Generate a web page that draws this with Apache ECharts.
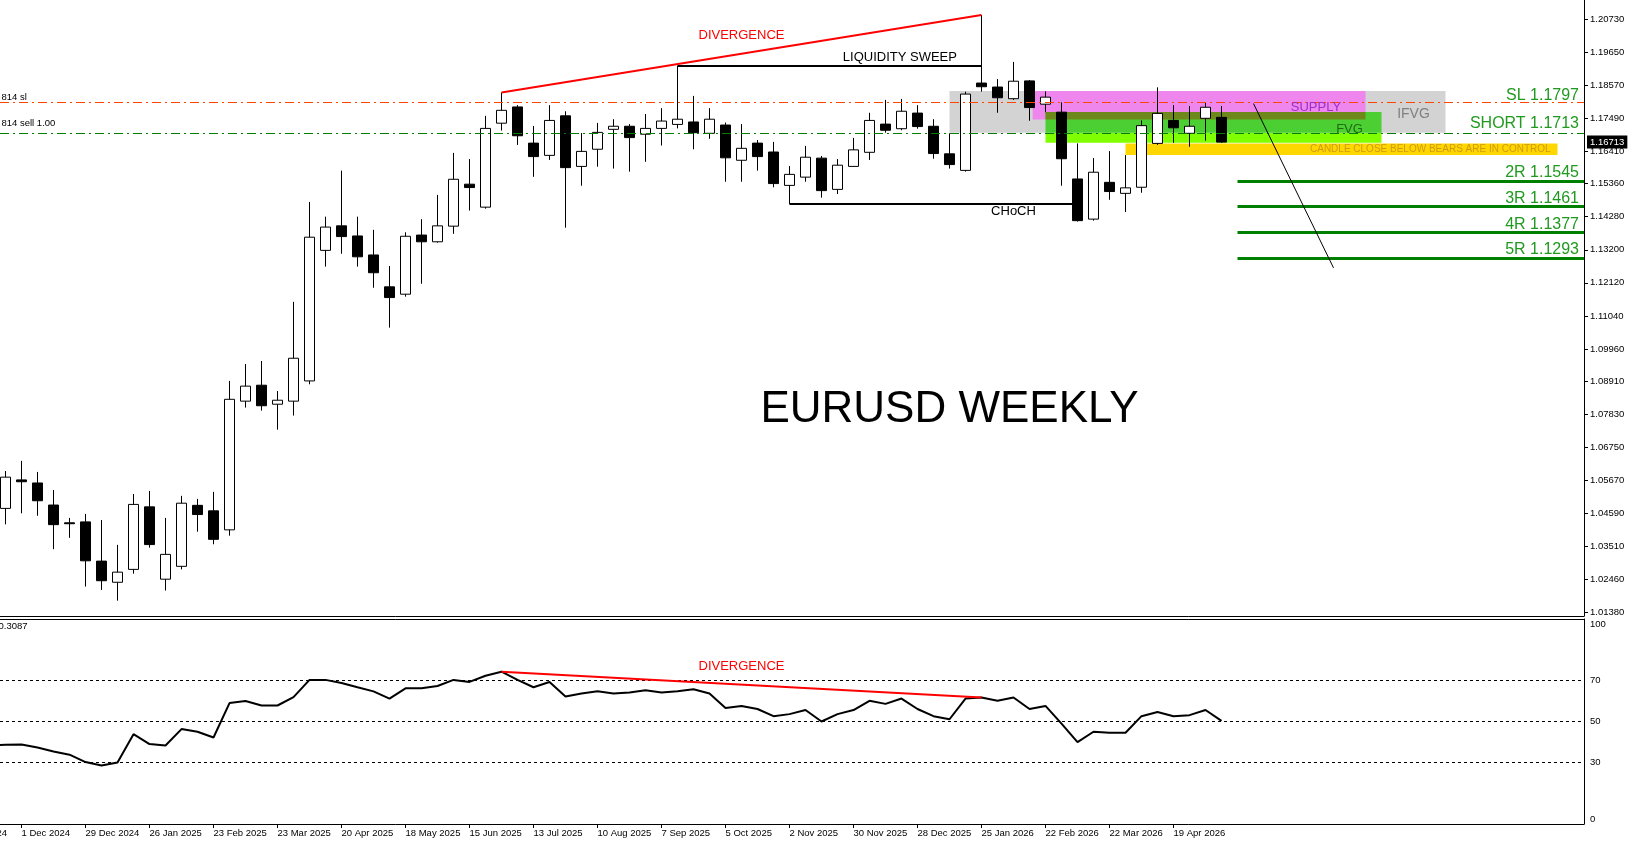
<!DOCTYPE html>
<html>
<head>
<meta charset="utf-8">
<title>EURUSD Weekly</title>
<script src="https://cdn.jsdelivr.net/npm/echarts@6/dist/echarts.min.js"></script>
<style>
  html, body { margin: 0; padding: 0; background: #fff; }
  #chart { width: 1628px; height: 845px; }
</style>
</head>
<body>
<div id="chart"></div>
<script>
// weekly bars, bar 0 = week of 24 Nov 2024, bar 76 = week of 10 May 2026
const opens  = [1.0476,1.0569,1.0559,1.0487,1.0429,1.0432,1.0304,1.0235,1.0277,1.0481,1.0245,1.0287,1.0486,1.0468,1.0406,1.0826,1.0878,1.0816,1.0826,1.0892,
                1.1318,1.1398,1.1365,1.1303,1.1199,1.1175,1.1368,1.1346,1.1397,1.1534,1.1459,1.1733,1.1786,1.1668,1.1628,1.1757,1.1592,1.1648,1.1713,1.1723,
                1.1697,1.1716,1.1729,1.1737,1.1700,1.1727,1.1612,1.1668,1.1639,1.1530,1.1557,1.1619,1.1517,1.1592,1.1638,1.1730,1.1715,1.1766,1.1723,1.1633,
                1.1579,1.1864,1.1851,1.1813,1.1871,1.1795,1.1769,1.1551,1.1420,1.1540,1.1504,1.1524,1.1667,1.1742,1.1700,1.1749,1.1752];
const closes = [1.0578,1.0563,1.0501,1.0423,1.0426,1.0305,1.0240,1.0268,1.0489,1.0358,1.0326,1.0493,1.0456,1.0375,1.0832,1.0875,1.0811,1.0829,1.0966,1.1361,
                1.1394,1.1363,1.1297,1.1245,1.1164,1.1364,1.1346,1.1398,1.1550,1.1523,1.1716,1.1775,1.1692,1.1624,1.1742,1.1588,1.1641,1.1703,1.1723,1.1686,
                1.1716,1.1740,1.1746,1.1702,1.1746,1.1620,1.1651,1.1624,1.1536,1.1566,1.1622,1.1513,1.1596,1.1646,1.1742,1.1710,1.1772,1.1722,1.1634,1.1598,
                1.1828,1.1852,1.1816,1.1870,1.1784,1.1818,1.1617,1.1415,1.1573,1.1510,1.1522,1.1725,1.1765,1.1718,1.1723,1.1785,1.16713];
const lows   = [1.0424,1.0460,1.0452,1.0343,1.0380,1.0221,1.0210,1.0175,1.0263,1.0348,1.0208,1.0277,1.0400,1.0359,1.0387,1.0805,1.0795,1.0733,1.0779,1.0881,
                1.1265,1.1307,1.1265,1.1196,1.1066,1.1167,1.1209,1.1343,1.1372,1.1448,1.1454,1.1709,1.1662,1.1558,1.1613,1.1392,1.1529,1.1591,1.1585,1.1575,
                1.1607,1.1660,1.1716,1.1648,1.1682,1.1542,1.1542,1.1578,1.1524,1.1469,1.1542,1.1490,1.1502,1.1591,1.1613,1.1702,1.1710,1.1715,1.1617,1.1585,
                1.1575,1.1836,1.1767,1.1809,1.1741,1.1769,1.1529,1.1412,1.1415,1.1483,1.1443,1.1506,1.1662,1.1669,1.1656,1.1676,1.1669];
const highs  = [1.0598,1.0631,1.0595,1.0536,1.0445,1.0458,1.0438,1.0357,1.0523,1.0533,1.0445,1.0517,1.0507,1.0530,1.0892,1.0947,1.0957,1.0859,1.1150,1.1476,
                1.1428,1.1578,1.1428,1.1385,1.1267,1.1377,1.1420,1.1499,1.1636,1.1616,1.1757,1.1833,1.1792,1.1724,1.1792,1.1772,1.1701,1.1734,1.1746,1.1730,
                1.1763,1.1782,1.1920,1.1822,1.1782,1.1735,1.1730,1.1678,1.1672,1.1593,1.1659,1.1626,1.1616,1.1685,1.1767,1.1809,1.1812,1.1792,1.1746,1.1700,
                1.1836,1.2086,1.1877,1.1933,1.1874,1.1837,1.1801,1.1667,1.1619,1.1642,1.1629,1.1742,1.1850,1.1792,1.1789,1.1801,1.1789];

// RSI(14) per bar; rsiPrev is the bar just left of the visible window
const rsiPrev = 38.3;
const rsi = [38.6,38.8,37.3,35.4,33.8,30.2,28.5,30.0,43.8,39.0,38.3,46.3,45.0,42.2,59.0,60.0,57.8,57.8,61.9,70.3,
             70.3,68.8,66.7,64.7,61.2,66.2,66.2,67.3,70.3,69.3,72.3,74.3,70.3,66.7,69.3,62.2,63.7,64.7,63.7,64.2,
             65.2,64.2,64.7,65.7,63.7,56.6,57.6,56.1,52.6,53.6,55.6,50.0,53.6,55.6,60.1,58.6,61.2,56.1,52.6,51.1,
             61.2,61.7,60.1,61.7,56.1,57.6,49.0,39.9,45.0,44.5,44.5,52.6,54.6,52.6,53.1,55.6,50.3];
const rsiLastText = '50.3087';

const priceTicks = [1.2073,1.1965,1.1857,1.1749,1.1641,1.1536,1.1428,1.1320,1.1212,1.1104,1.0996,1.0891,1.0783,1.0675,1.0567,1.0459,1.0351,1.0246,1.0138];
const rsiTicks = [0, 30, 50, 70, 100];
const rsiLevels = [30, 50, 70];
const dateTicks = ['1 Dec 2024','29 Dec 2024','26 Jan 2025','23 Feb 2025','23 Mar 2025','20 Apr 2025','18 May 2025','15 Jun 2025',
                   '13 Jul 2025','10 Aug 2025','7 Sep 2025','5 Oct 2025','2 Nov 2025','30 Nov 2025','28 Dec 2025','25 Jan 2026',
                   '22 Feb 2026','22 Mar 2026','19 Apr 2026'];
const dateTickBars = dateTicks.map((_, k) => 1 + 4 * k);

// trade levels
const slPrice = 1.1797;
const shortPrice = 1.1713;
const targetNames = ['2R', '3R', '4R', '5R'];
const targetPrices = [1.1545, 1.1461, 1.1377, 1.1293];
const targetStartBar = 77;
const lastPrice = 1.16713;

// zones: [fromBar, toBar, lowPrice, highPrice]
const zoneIfvg   = [59, 90, 1.1702, 1.1838];
const zoneSupply = [64.2, 85, 1.1745, 1.1838];
const zoneFvgLow = [65, 86, 1.1669, 1.1702];
const zoneFvgMid = [65, 86, 1.1702, 1.17695];
const zoneFvgTop = [65, 85, 1.1745, 1.17695];
const zoneClose  = [70, 97, 1.1629, 1.1667];

// swing points used by the drawings
const divFrom = 31, divTo = 61, sweepFrom = 42, chochFrom = 49, chochTo = 67;
const trendLine = [[78, 1.1797], [83, 1.1261]];

const X_MIN = -0.34375, X_MAX = 98.65625;
const P_MIN = 1.01249, P_MAX = 1.2135;
const FONT = '"Liberation Sans", Arial, sans-serif';
const GREEN_TXT = '#1f9a1f';

const candles = opens.map((o, i) => [i, o, closes[i], lows[i], highs[i]]);
const rsiLine = [[-1, rsiPrev]].concat(rsi.map((v, i) => [i, v]));

function area(z, color) {
  return [{ coord: [z[0], z[3]], itemStyle: { color: color, opacity: 1 } }, { coord: [z[1], z[2]] }];
}
function txt(coord, text, style) {
  return { coord: coord, label: Object.assign({ show: true, formatter: text, fontFamily: FONT }, style) };
}

const chart = echarts.init(document.getElementById('chart'));
const option = {
  animation: false,
  backgroundColor: '#fff',
  textStyle: { fontFamily: FONT },
  grid: [
    { left: 0, right: 44, top: 0, height: 616, outerBoundsMode: 'none' },
    { left: 0, right: 44, top: 619, height: 205, outerBoundsMode: 'none' }
  ],
  xAxis: [
    { type: 'value', gridIndex: 0, min: X_MIN, max: X_MAX,
      axisLine: { show: true, onZero: false, lineStyle: { color: '#000', width: 1 } },
      axisTick: { show: false }, axisLabel: { show: false }, splitLine: { show: false } },
    { type: 'value', gridIndex: 1, min: X_MIN, max: X_MAX,
      axisLine: { show: true, onZero: false, lineStyle: { color: '#000', width: 1 } },
      axisTick: { show: true, customValues: dateTickBars, length: 4, lineStyle: { color: '#000' } },
      axisLabel: { show: true, customValues: dateTickBars, align: 'left', margin: 4, fontSize: 9.5, color: '#000',
        formatter: v => dateTicks[Math.round((v - 1) / 4)] || '' },
      splitLine: { show: false } },
    { type: 'value', gridIndex: 1, position: 'top', min: X_MIN, max: X_MAX,
      axisLine: { show: true, onZero: false, lineStyle: { color: '#000', width: 1 } },
      axisTick: { show: false }, axisLabel: { show: false }, splitLine: { show: false } }
  ],
  yAxis: [
    { type: 'value', gridIndex: 0, position: 'right', min: P_MIN, max: P_MAX, scale: true,
      axisLine: { show: true, onZero: false, lineStyle: { color: '#000', width: 1 } },
      axisTick: { show: true, customValues: priceTicks, length: 4, lineStyle: { color: '#000' } },
      axisLabel: { show: true, customValues: priceTicks, margin: 6, fontSize: 9.5, color: '#000',
        formatter: v => v.toFixed(5) },
      splitLine: { show: false } },
    { type: 'value', gridIndex: 1, position: 'right', min: 0, max: 100,
      axisLine: { show: true, onZero: false, lineStyle: { color: '#000', width: 1 } },
      axisTick: { show: false },
      axisLabel: { show: true, customValues: rsiTicks, margin: 6, fontSize: 9.5, color: '#000',
        verticalAlignMaxLabel: 'top', verticalAlignMinLabel: 'bottom' },
      splitLine: { show: false } },
    // current price tag on the price scale
    { type: 'value', gridIndex: 0, position: 'right', min: P_MIN, max: P_MAX, scale: true,
      axisLine: { show: false, onZero: false }, axisTick: { show: false }, splitLine: { show: false },
      axisLabel: { show: true, customValues: [lastPrice], margin: 3, fontSize: 9.5, color: '#fff',
        backgroundColor: '#000', padding: [2, 3, 1, 3], formatter: v => v.toFixed(5) } }
  ],
  series: [
    {
      type: 'candlestick',
      xAxisIndex: 0, yAxisIndex: 0,
      data: candles,
      barWidth: 10,
      itemStyle: { color: '#fff', color0: '#000', borderColor: '#000', borderColor0: '#000', borderColorDoji: '#000', borderWidth: 1 },
      markArea: {
        silent: true,
        data: [
          area(zoneIfvg, '#d3d3d3'),
          area(zoneSupply, '#ee86ee'),
          area(zoneFvgLow, '#80ff00'),
          area(zoneFvgMid, '#4ccf33'),
          area(zoneFvgTop, '#6f881b'),
          area(zoneClose, '#ffd700')
        ]
      },
      markLine: {
        silent: true,
        symbol: ['none', 'none'],
        label: { show: false },
        data: [
          { yAxis: slPrice, lineStyle: { color: '#ff4500', width: 1, type: [9, 4, 2, 4] },
            label: { show: true, position: 'insideEndTop', formatter: 'SL ' + slPrice.toFixed(4), color: GREEN_TXT, fontSize: 16, distance: [5, -1] } },
          { yAxis: shortPrice, lineStyle: { color: '#008000', width: 1, type: [9, 4, 2, 4] },
            label: { show: true, position: 'insideEndTop', formatter: 'SHORT ' + shortPrice.toFixed(4), color: GREEN_TXT, fontSize: 16, distance: [5, 2] } },
          ...targetPrices.map((p, k) => [
            { coord: [targetStartBar, p], lineStyle: { color: '#008000', width: 3, type: 'solid' },
              label: { show: true, position: 'insideEndTop', formatter: targetNames[k] + ' ' + p.toFixed(4), color: GREEN_TXT, fontSize: 16, distance: [5, 0] } },
            { coord: [X_MAX, p] }
          ]),
          [{ coord: [divFrom, highs[divFrom]], lineStyle: { color: '#ff0000', width: 2, type: 'solid' } }, { coord: [divTo, highs[divTo]] }],
          [{ coord: [sweepFrom, highs[sweepFrom]], lineStyle: { color: '#000', width: 2, type: 'solid' } }, { coord: [divTo, highs[sweepFrom]] }],
          [{ coord: [chochFrom, lows[chochFrom]], lineStyle: { color: '#000', width: 2, type: 'solid' } }, { coord: [chochTo, lows[chochFrom]] }],
          [{ coord: trendLine[0], lineStyle: { color: '#000', width: 1, type: 'solid' } }, { coord: trendLine[1] }]
        ]
      },
      markPoint: {
        silent: true,
        symbol: 'rect', symbolSize: 1,
        itemStyle: { color: 'rgba(0,0,0,0)' },
        data: [
          txt([46, 1.2021], 'DIVERGENCE', { color: '#ff0000', fontSize: 13 }),
          txt([55.9, 1.1946], 'LIQUIDITY SWEEP', { color: '#000', fontSize: 13 }),
          txt([63.0, 1.1444], 'CHoCH', { color: '#000', fontSize: 13 }),
          txt([81.9, 1.1786], 'SUPPLY', { color: '#9932cc', fontSize: 13 }),
          txt([88.0, 1.1761], 'IFVG', { color: '#808080', fontSize: 14 }),
          txt([84.0, 1.1714], 'FVG', { color: '#1f6b12', fontSize: 13 }),
          txt([96.6, 1.1649], 'CANDLE CLOSE BELOW BEARS ARE IN CONTROL', { color: '#cf9a12', fontSize: 10, position: 'left', distance: 0 }),
          txt([59.0, 1.0797], 'EURUSD WEEKLY', { color: '#000', fontSize: 44 }),
          txt([X_MIN + 0.06, 1.1816], '814 sl', { color: '#000', fontSize: 9.5, position: 'right', distance: 0 }),
          txt([X_MIN + 0.06, 1.1733], '814 sell 1.00', { color: '#000', fontSize: 9.5, position: 'right', distance: 0 })
        ]
      }
    },
    {
      type: 'line',
      xAxisIndex: 1, yAxisIndex: 1,
      data: rsiLine,
      showSymbol: false,
      clip: true,
      lineStyle: { color: '#000', width: 2 },
      markLine: {
        silent: true,
        symbol: ['none', 'none'],
        label: { show: false },
        data: [
          ...rsiLevels.map(v => ({ yAxis: v, lineStyle: { color: '#000', width: 1, type: [3, 3] } })),
          [{ coord: [divFrom, rsi[divFrom]], lineStyle: { color: '#ff0000', width: 2, type: 'solid' } }, { coord: [divTo, rsi[divTo]] }]
        ]
      },
      markPoint: {
        silent: true,
        symbol: 'rect', symbolSize: 1,
        itemStyle: { color: 'rgba(0,0,0,0)' },
        data: [
          txt([46, 76.7], 'DIVERGENCE', { color: '#ff0000', fontSize: 13 }),
          txt([1.41, 96.2], rsiLastText, { color: '#000', fontSize: 9.5, position: 'left', distance: 0 })
        ]
      }
    }
  ],
  graphic: [
    { type: 'text', silent: true, style: { text: '24 Nov 2024', x: 7, y: 833, align: 'right', verticalAlign: 'middle',
      font: '9.5px "Liberation Sans", Arial, sans-serif', fill: '#000' } }
  ]
};
chart.setOption(option);
</script>
</body>
</html>
